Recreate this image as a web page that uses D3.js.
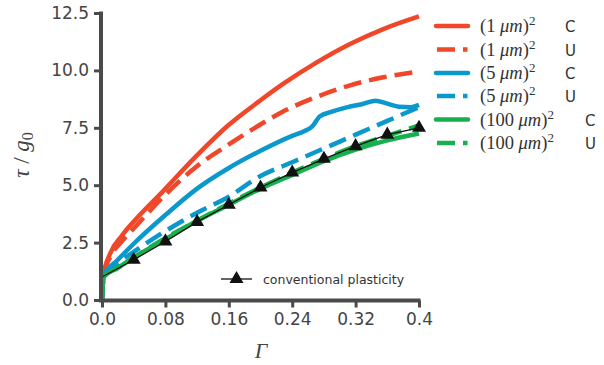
<!DOCTYPE html>
<html><head><meta charset="utf-8">
<script src="https://cdn.jsdelivr.net/npm/d3@7"></script>
<style>body{margin:0;background:#fff}svg{display:block}</style>
</head><body>
<svg id="c" width="604" height="365"></svg>
<script>
// ---- data ----
const xTicks = [0.0, 0.08, 0.16, 0.24, 0.32, 0.4];
const xTickLabels = ["0.0", "0.08", "0.16", "0.24", "0.32", "0.4"];
const yTicks = [0, 2.5, 5, 7.5, 10, 12.5];
const yTickLabels = ["0.0", "2.5", "5.0", "7.5", "10.0", "12.5"];

const red1C_G = [0, 0.002, 0.01, 0.025, 0.045, 0.076, 0.117, 0.159, 0.2, 0.228, 0.271, 0.313, 0.355, 0.4];
const red1C_T = [0, 1.1, 2.0, 2.8, 3.6, 4.7, 6.2, 7.6, 8.7, 9.4, 10.35, 11.15, 11.8, 12.35];
const red1U_G = [0, 0.002, 0.01, 0.025, 0.045, 0.076, 0.117, 0.159, 0.193, 0.228, 0.271, 0.313, 0.355, 0.4];
const red1U_T = [0, 1.1, 1.85, 2.55, 3.3, 4.45, 5.75, 6.75, 7.5, 8.2, 8.85, 9.35, 9.7, 9.95];
const blue5C_G = [0, 0.002, 0.02, 0.04, 0.08, 0.12, 0.16, 0.2, 0.24, 0.255, 0.265, 0.275, 0.29, 0.31, 0.33, 0.345, 0.36, 0.375, 0.39, 0.4];
const blue5C_T = [0, 1.05, 1.75, 2.45, 3.7, 4.85, 5.75, 6.5, 7.15, 7.35, 7.55, 8.0, 8.2, 8.4, 8.55, 8.68, 8.55, 8.42, 8.4, 8.5];
const blue5U_G = [0, 0.002, 0.02, 0.04, 0.08, 0.12, 0.16, 0.2, 0.24, 0.28, 0.32, 0.36, 0.4];
const blue5U_T = [0, 1.05, 1.6, 2.1, 3.0, 3.8, 4.5, 5.4, 6.0, 6.6, 7.2, 7.8, 8.4];
const green100C_G = [0, 0.002, 0.02, 0.04, 0.08, 0.12, 0.16, 0.2, 0.24, 0.28, 0.32, 0.36, 0.4];
const green100C_T = [0, 1.0, 1.4, 1.85, 2.65, 3.45, 4.15, 4.85, 5.45, 6.05, 6.55, 6.95, 7.25];
const green100U_G = [0, 0.002, 0.02, 0.04, 0.08, 0.12, 0.16, 0.2, 0.24, 0.28, 0.32, 0.36, 0.4];
const green100U_T = [0, 1.0, 1.4, 1.85, 2.7, 3.45, 4.2, 4.9, 5.55, 6.15, 6.7, 7.15, 7.6];
const conv_G = [0, 0.04, 0.08, 0.12, 0.16, 0.2, 0.24, 0.28, 0.32, 0.36, 0.4];
const conv_T = [1.0, 1.75, 2.55, 3.4, 4.15, 4.9, 5.55, 6.15, 6.7, 7.2, 7.5];

const seriesNames = ["1", "1", "5", "5", "100", "100"];
const seriesKinds = ["C", "U", "C", "U", "C", "U"];
const colors = {red: "#f0462a", blue: "#0b98cd", green: "#17b04f"};

const series = [
  {G: red1C_G, T: red1C_T, color: colors.red, dash: null},
  {G: red1U_G, T: red1U_T, color: colors.red, dash: "18,8"},
  {G: blue5C_G, T: blue5C_T, color: colors.blue, dash: null},
  {G: blue5U_G, T: blue5U_T, color: colors.blue, dash: "18,8"},
  {G: green100C_G, T: green100C_T, color: colors.green, dash: null},
  {G: green100U_G, T: green100U_T, color: colors.green, dash: "18,8"},
];

// ---- chart ----
const svg = d3.select("#c");
const x = d3.scaleLinear().domain([0, 0.4]).range([102, 419]);
const y = d3.scaleLinear().domain([0, 12.5]).range([300, 13]);
const axisColor = "#4a4a4a";
const tickFont = "'DejaVu Sans', sans-serif";

const line = d3.line().x(d => x(d[0])).y(d => y(d[1])).curve(d3.curveMonotoneX);

const plot = svg.append("g");
series.forEach(s => {
  const pts = s.G.map((g, i) => [g, s.T[i]]);
  plot.append("path").attr("d", line(pts))
    .attr("fill", "none").attr("stroke", s.color).attr("stroke-width", 4.5)
    .attr("stroke-dasharray", s.dash).attr("stroke-linejoin", "round");
});

// conventional plasticity
const convPts = conv_G.map((g, i) => [g, conv_T[i]]);
plot.append("path").attr("d", d3.line().x(d => x(d[0])).y(d => y(d[1]))(convPts))
  .attr("fill", "none").attr("stroke", "#111").attr("stroke-width", 1.3);
const tri = d3.symbol().type(d3.symbolTriangle).size(85);
plot.selectAll("path.tri").data(convPts.slice(1)).join("path").attr("class", "tri")
  .attr("d", tri).attr("transform", d => `translate(${x(d[0])},${y(d[1])})`)
  .attr("fill", "#111");

// axes
const xAxis = d3.axisBottom(x).tickValues(xTicks).tickFormat((d, i) => xTickLabels[i]).tickSizeOuter(0).tickSize(7).tickPadding(5);
const yAxis = d3.axisLeft(y).tickValues(yTicks).tickFormat((d, i) => yTickLabels[i]).tickSizeOuter(0).tickSize(7).tickPadding(5);
const gx = svg.append("g").attr("transform", "translate(0,300.5)").call(xAxis);
const gy = svg.append("g").attr("transform", "translate(101,0)").call(yAxis);
[gx, gy].forEach(g => {
  g.select(".domain").attr("stroke", axisColor).attr("stroke-width", 4);
  g.selectAll(".tick line").attr("stroke", axisColor).attr("stroke-width", 3);
  g.selectAll(".tick text").attr("fill", "#444").style("font-family", tickFont).style("font-size", "17px");
});
gx.select(".domain").attr("d", `M${x(0) - 3},0H${x(0.4) + 1.5}`);
gy.select(".domain").attr("d", `M0,${y(12.5) - 1.5}V${y(0) + 2}`);

// axis labels
svg.append("text").attr("x", 261).attr("y", 358).attr("text-anchor", "middle")
  .style("font-family", "'Liberation Serif', serif").style("font-style", "italic").style("font-size", "22px")
  .attr("fill", "#444").text("Γ");
const yl = svg.append("text").attr("transform", "translate(29,155) rotate(-90)").attr("text-anchor", "middle")
  .style("font-family", "'Liberation Serif', serif").style("font-size", "23px").attr("fill", "#444");
yl.append("tspan").style("font-style", "italic").text("τ");
yl.append("tspan").text(" / ");
yl.append("tspan").style("font-style", "italic").text("g");
yl.append("tspan").attr("dy", 4).style("font-size", "16px").text("0");

// legend
const lg = svg.append("g");
const rowY = [26, 49.5, 73, 96, 119.5, 143];
const kindX = [565, 565, 565, 565, 585, 585];
series.forEach((s, i) => {
  const yy = rowY[i];
  lg.append("line").attr("x1", s.dash ? 437 : 436).attr("x2", s.dash ? 467.5 : 468).attr("y1", yy).attr("y2", yy)
    .attr("stroke", s.color).attr("stroke-width", 4.5).attr("stroke-dasharray", s.dash)
    .attr("stroke-linecap", s.dash ? "butt" : "round");
  const t = lg.append("text").attr("x", 480).attr("y", yy + 6)
    .style("font-family", "'Liberation Serif', serif").style("font-size", "18.5px").attr("fill", "#333");
  t.append("tspan").text("(" + seriesNames[i] + " ");
  t.append("tspan").style("font-style", "italic").text("μm");
  t.append("tspan").text(")");
  t.append("tspan").attr("dy", -7).style("font-size", "13px").text("2");
  lg.append("text").attr("x", kindX[i]).attr("y", yy + 6)
    .style("font-family", tickFont).style("font-size", "15px").attr("fill", "#333").text(seriesKinds[i]);
});

// conventional plasticity legend
lg.append("line").attr("x1", 221).attr("x2", 252).attr("y1", 279).attr("y2", 279).attr("stroke", "#111").attr("stroke-width", 1.3);
lg.append("path").attr("d", tri).attr("transform", "translate(236.5,279)").attr("fill", "#111");
lg.append("text").attr("x", 263).attr("y", 284).style("font-family", tickFont).style("font-size", "12.5px")
  .attr("fill", "#333").text("conventional plasticity");
</script>
</body></html>
